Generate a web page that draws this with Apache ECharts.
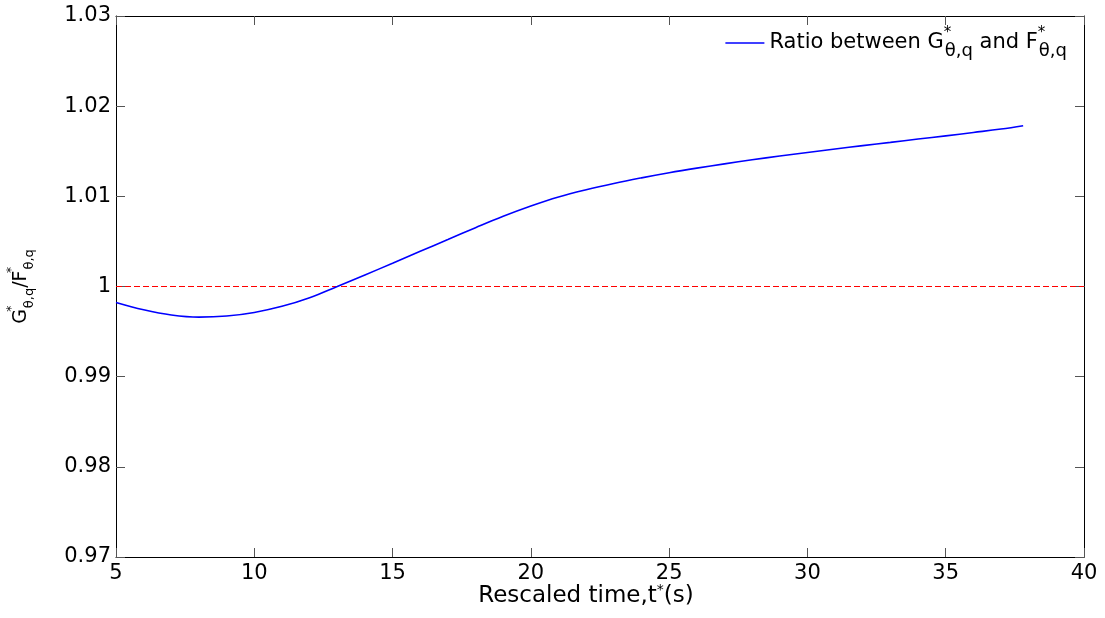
<!DOCTYPE html>
<html>
<head>
<meta charset="utf-8">
<script src="https://cdn.jsdelivr.net/npm/echarts@6/dist/echarts.min.js"></script>
<style>
  html, body { margin: 0; padding: 0; background: #fff; }
  #chart { width: 1105px; height: 618px; }
</style>
</head>
<body>
<div id="chart"></div>
<script>
// Rescaled time t* (s)
const timeValues = [5, 6, 7, 8, 9, 10, 11, 12, 13, 14, 15, 16, 17, 18, 19, 20, 21, 22, 23, 24,
  25, 26, 27, 28, 29, 30, 31, 32, 33, 34, 35, 36, 37, 37.8];
// Ratio G*/F* at each time
const ratioValues = [0.99823, 0.99742, 0.99684, 0.99660, 0.99672, 0.99712, 0.99780, 0.99876, 1.00000,
  1.00128, 1.00258, 1.00390, 1.00521, 1.00652, 1.00778, 1.00892, 1.00992, 1.01073, 1.01143, 1.01205,
  1.01262, 1.01313, 1.01360, 1.01405, 1.01447, 1.01487, 1.01525, 1.01562, 1.01598, 1.01635,
  1.01671, 1.01708, 1.01746, 1.01783];
// Reference level
const refX = [5, 40];
const refY = [1, 1];

const xTicks = { min: 5, max: 40, interval: 5 };
const yTicks = { min: 0.97, max: 1.03, interval: 0.01 };

const FONT = 'DejaVu Sans, sans-serif';

const ratioData = timeValues.map((t, i) => [t, ratioValues[i]]);
const refData = refX.map((x, i) => [x, refY[i]]);

function richParts(size, supSize, subSize, lineH) {
  return {
    b: { fontFamily: FONT, fontSize: size, color: '#000', lineHeight: lineH },
    sup: { fontFamily: FONT, fontSize: supSize, color: '#000', verticalAlign: 'top', lineHeight: supSize, width: 1 },
    sub: { fontFamily: FONT, fontSize: subSize, color: '#000', verticalAlign: 'bottom', lineHeight: subSize + 1 }
  };
}

const tickStyle = { show: true, inside: true, length: 9, lineStyle: { color: '#555', width: 1 } };
const lineStyleAxis = { show: true, onZero: false, lineStyle: { color: '#000', width: 1 } };

const chart = echarts.init(document.getElementById('chart'), null, { renderer: 'canvas' });

chart.setOption({
  animation: false,
  backgroundColor: '#fff',
  grid: { left: 116, right: 21, top: 16, bottom: 61, containLabel: false, outerBoundsMode: 'none' },
  legend: {
    data: ['ratio'],
    right: 33,
    top: 21,
    icon: 'rect',
    itemWidth: 39,
    itemHeight: 1.5,
    itemGap: 5,
    formatter: () => '{b|Ratio between G}{sup|*}{sub|θ,q}{b| and F}{sup|*}{sub|θ,q}',
    textStyle: { rich: richParts(21, 15, 18, 34), fontFamily: FONT, fontSize: 21 }
  },
  xAxis: [{
    type: 'value',
    position: 'bottom',
    min: xTicks.min, max: xTicks.max, interval: xTicks.interval,
    axisLine: lineStyleAxis,
    axisTick: tickStyle,
    splitLine: { show: false },
    axisLabel: { color: '#000', fontFamily: FONT, fontSize: 21, margin: 6 },
    name: '{b|Rescaled time,t}{sup|*}{b|(s)}',
    nameLocation: 'middle',
    nameMoveOverlap: false,
    nameGap: 26,
    nameTextStyle: {
      padding: [0, 28, 0, 0],
      rich: {
        b: { fontFamily: FONT, fontSize: 23, color: '#000', lineHeight: 26 },
        sup: { fontFamily: FONT, fontSize: 14, color: '#000', verticalAlign: 'top', lineHeight: 12 }
      }
    }
  }, {
    type: 'value',
    position: 'top',
    min: xTicks.min, max: xTicks.max, interval: xTicks.interval,
    axisLine: lineStyleAxis,
    axisTick: tickStyle,
    splitLine: { show: false },
    axisLabel: { show: false }
  }],
  yAxis: [{
    type: 'value',
    position: 'left',
    min: yTicks.min, max: yTicks.max, interval: yTicks.interval,
    axisLine: lineStyleAxis,
    axisTick: tickStyle,
    splitLine: { show: false },
    axisLabel: {
      color: '#000', fontFamily: FONT, fontSize: 21, margin: 5,
      formatter: v => String(+v.toFixed(2))
    },
    name: '{b|G}{sup|*}{sub|θ,q}{b|/F}{sup|*}{sub|θ,q}',
    nameLocation: 'middle',
    nameMoveOverlap: false,
    nameRotate: 90,
    nameGap: 80,
    nameTextStyle: { rich: richParts(19, 12, 13, 30) }
  }, {
    type: 'value',
    position: 'right',
    min: yTicks.min, max: yTicks.max, interval: yTicks.interval,
    axisLine: lineStyleAxis,
    axisTick: tickStyle,
    splitLine: { show: false },
    axisLabel: { show: false }
  }],
  series: [{
    name: 'ratio',
    type: 'line',
    data: ratioData,
    smooth: 0.4,
    symbol: 'none',
    lineStyle: { color: '#0000ff', width: 1.6 },
    itemStyle: { color: '#0000ff' },
    z: 3
  }, {
    name: 'reference',
    type: 'line',
    data: refData,
    symbol: 'none',
    lineStyle: { color: '#ff0000', width: 1, type: [6, 3] },
    itemStyle: { color: '#ff0000' },
    z: 2
  }]
});
</script>
</body>
</html>
